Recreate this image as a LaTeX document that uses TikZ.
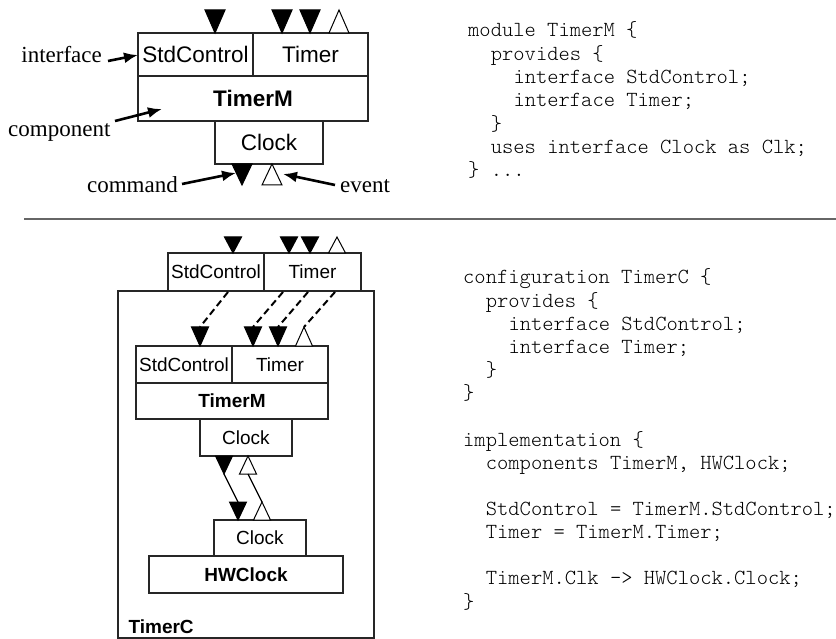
\documentclass[tikz,border=0pt]{standalone}
\usepackage{fontspec}
\setmainfont{Liberation Serif}
\setsansfont{Liberation Sans}
\setmonofont{Latin Modern Mono Light}
\usetikzlibrary{arrows.meta}
\newcommand\cmdtri[4]{\draw[tri,fill=black] (#1-#3/2,#2) -- (#1+#3/2,#2) -- (#1,#2+#4) -- cycle;}
\newcommand\evttri[4]{\draw[tri,fill=white] (#1,#2) -- (#1+#3/2,#2+#4) -- (#1-#3/2,#2+#4) -- cycle;}
\tikzset{
  box/.style={draw=black!85, line width=1.2pt, inner sep=0pt, font=\sffamily\fontsize{22.5}{26}\selectfont},
  sbox/.style={box, font=\sffamily\fontsize{19}{22}\selectfont},
  tri/.style={draw=black, line width=1pt, line join=miter},
  lbl/.style={inner sep=0pt, font=\rmfamily\fontsize{23}{27}\selectfont},
  lab/.style={line width=2.6pt, -{Latex[length=14pt,width=11pt]}},
  dashwire/.style={line width=2pt, dash pattern=on 7pt off 4pt},
  wire/.style={line width=1.2pt},
  code/.style={anchor=base west, inner sep=0pt, font=\ttfamily\fontsize{21.5}{23}\selectfont},
}
\begin{document}
\begin{tikzpicture}[x=1pt,y=-1pt]
\useasboundingbox (0,0) rectangle (836,639);

% ---------------- top part ----------------
\node[box, minimum width=115, minimum height=43] (sc) at (195.5,54.5) {StdControl};
\node[box, minimum width=115, minimum height=43] (tm) at (310.5,54.5) {Timer};
\node[box, minimum width=230, minimum height=45] (timerm) at (253,98.5) {\bfseries TimerM};
\node[box, minimum width=108, minimum height=43] (clk) at (269,142.5) {Clock};

\cmdtri{215}{10}{20}{23}
\cmdtri{282}{10}{20}{23}
\cmdtri{310}{10}{20}{23}
\evttri{339}{10}{20}{23}
\cmdtri{242}{164}{20}{21}
\evttri{272}{164}{20}{21}

\node[lbl, anchor=base east] (linterface) at (102,63) {interface};
\node[lbl, anchor=base west] (lcomponent) at (8,137) {component};
\node[lbl, anchor=base east] (lcommand) at (178,193) {command};
\node[lbl, anchor=base west] (levent) at (340,193) {event};

\coordinate (ai) at (138,55);
\coordinate (ac) at (162,109);
\coordinate (acm) at (236,173);
\coordinate (aev) at (283,174);
\draw[lab] (108,61) -- (ai);
\draw[lab] (115,121) -- (ac);
\draw[lab] (182,184) -- (acm);
\draw[lab] (335,185) -- (aev);

\draw[draw=black!60, line width=1.6pt] (24,219) -- (836,219);

\node[code] (c1) at (468,37) {module TimerM \{};
\node[code] (c2) at (490.66,60.3) {provides \{};
\node[code] (c3) at (513.32,83.6) {interface StdControl;};
\node[code] (c4) at (513.32,106.9) {interface Timer;};
\node[code] (c5) at (490.66,130.2) {\}};
\node[code] (c6) at (490.66,153.5) {uses interface Clock as Clk;};
\node[code] (c7) at (468,176.8) {\} ...};

% ---------------- bottom part ----------------
\node[box, minimum width=256, minimum height=347] (timerc) at (246,464.5) {};
\node[sbox, draw=none, anchor=west] (ltimerc) at (128,627) {\bfseries TimerC};
\node[sbox, minimum width=96, minimum height=38] (sc2) at (216,272) {StdControl};
\node[sbox, minimum width=97, minimum height=38] (tm2) at (312.5,272) {Timer};

\node[sbox, minimum width=96, minimum height=37] (sc3) at (184,364.5) {StdControl};
\node[sbox, minimum width=96, minimum height=37] (tm3) at (280,364.5) {Timer};
\node[sbox, minimum width=192, minimum height=36] (timerm3) at (232,401) {\bfseries TimerM};
\node[sbox, minimum width=92, minimum height=37] (clk3) at (246,437.5) {Clock};

\node[sbox, minimum width=92, minimum height=36] (clk4) at (260,538) {Clock};
\node[sbox, minimum width=194, minimum height=37] (hwclock) at (246,574.5) {\bfseries HWClock};

\cmdtri{233}{237}{17}{16}
\cmdtri{289}{237}{17}{16}
\cmdtri{310}{237}{17}{16}
\evttri{337}{237}{17}{16}

\cmdtri{200}{327}{17}{19}
\cmdtri{253}{327}{17}{19}
\cmdtri{278}{327}{17}{19}
\evttri{304}{327}{17}{19}

\cmdtri{224}{456}{17}{18}
\evttri{248}{456}{17}{18}
\cmdtri{238}{502}{17}{18}
\evttri{262}{502}{17}{18}

\coordinate (d1a) at (228,292); \coordinate (d1b) at (200,327);
\coordinate (d2a) at (283,292); \coordinate (d2b) at (253,327);
\coordinate (d3a) at (308,292); \coordinate (d3b) at (278,327);
\coordinate (d4a) at (335,292); \coordinate (d4b) at (304,327);
\draw[dashwire] (d1a) -- (d1b);
\draw[dashwire] (d2a) -- (d2b);
\draw[dashwire] (d3a) -- (d3b);
\draw[dashwire] (d4a) -- (d4b);

\coordinate (w1a) at (224,474); \coordinate (w1b) at (238,502);
\coordinate (w2a) at (248,474); \coordinate (w2b) at (262,502);
\draw[wire] (w1a) -- (w1b);
\draw[wire] (w2a) -- (w2b);

\node[code] (d1) at (463,284) {configuration TimerC \{};
\node[code] (d2) at (485.66,307.15) {provides \{};
\node[code] (d3) at (508.32,330.3) {interface StdControl;};
\node[code] (d4) at (508.32,353.45) {interface Timer;};
\node[code] (d5) at (485.66,376.6) {\}};
\node[code] (d6) at (463,399.75) {\}};
\node[code] (d7) at (463,446.05) {implementation \{};
\node[code] (d8) at (485.66,469.2) {components TimerM, HWClock;};
\node[code] (d9) at (485.66,515.5) {StdControl = TimerM.StdControl;};
\node[code] (d10) at (485.66,538.65) {Timer = TimerM.Timer;};
\node[code] (d11) at (485.66,584.95) {TimerM.Clk -> HWClock.Clock;};
\node[code] (d12) at (463,608.1) {\}};
\end{tikzpicture}
\end{document}
